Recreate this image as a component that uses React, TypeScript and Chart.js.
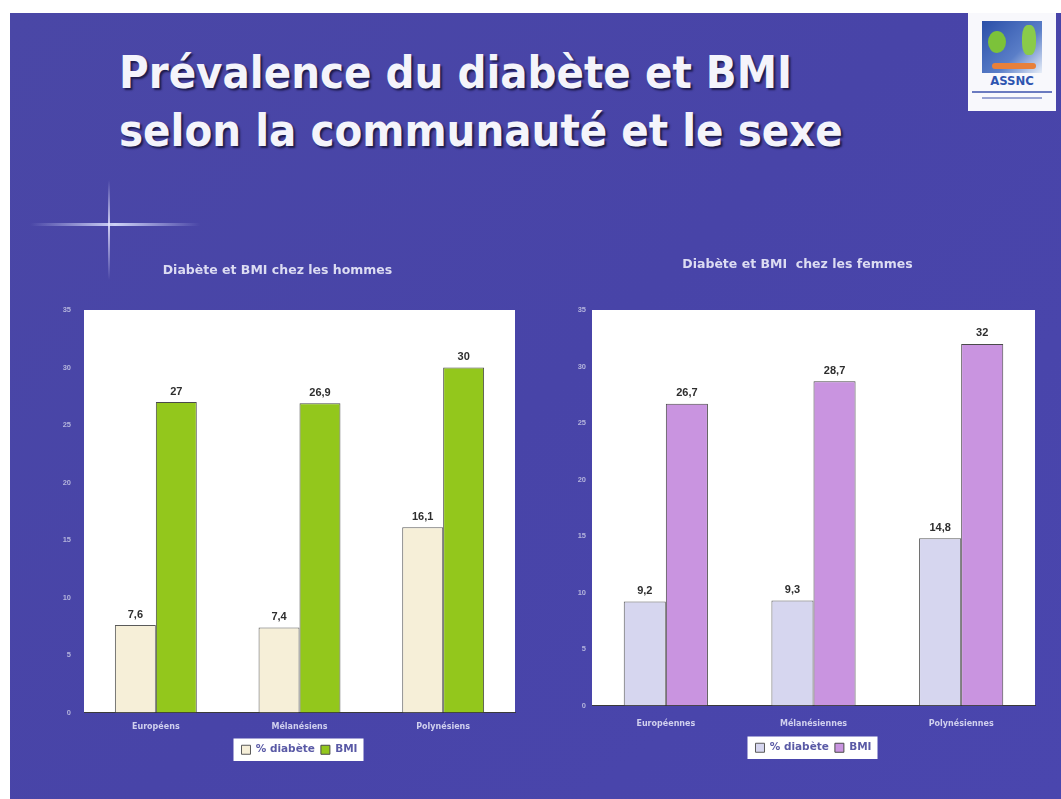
import React, { useEffect, useRef } from "react";
import { Chart, registerables } from "chart.js";

Chart.register(...registerables);

// ---- data ----
const menCategories = ["Européens", "Mélanésiens", "Polynésiens"];
const womenCategories = ["Européennes", "Mélanésiennes", "Polynésiennes"];
const menDiabetes = [7.6, 7.4, 16.1];
const menBMI = [27, 26.9, 30];
const womenDiabetes = [9.2, 9.3, 14.8];
const womenBMI = [26.7, 28.7, 32];
const seriesNames = ["% diabète", "BMI"];
const yMin = 0;
const yMax = 35;
const yStep = 5;
const menTitle = "Diabète et BMI chez les hommes";
const womenTitle = "Diabète et BMI  chez les femmes";
const slideTitle = ["Prévalence du diabète et BMI", "selon la communauté et le sexe"];

const fmt = (v: number) => String(v).replace(".", ",");

const whitePlot = {
  id: "whitePlot",
  beforeDraw(chart: any) {
    const { ctx, chartArea } = chart;
    ctx.save();
    ctx.fillStyle = "#ffffff";
    ctx.fillRect(chartArea.left, chartArea.top, chartArea.right - chartArea.left, chartArea.bottom - chartArea.top);
    const lg = chart.legend;
    if (lg && lg.legendHitBoxes && lg.legendHitBoxes.length) {
      let l = Infinity, r = -Infinity, t = Infinity, b = -Infinity;
      lg.legendHitBoxes.forEach((h: any) => {
        l = Math.min(l, h.left);
        r = Math.max(r, h.left + h.width);
        t = Math.min(t, h.top);
        b = Math.max(b, h.top + h.height);
      });
      ctx.fillStyle = "#ffffff";
      ctx.fillRect(l - 8, t - 6, r - l + 14, b - t + 12);
    }
    ctx.restore();
  },
};

const valueLabels = {
  id: "valueLabels",
  afterDatasetsDraw(chart: any) {
    const { ctx } = chart;
    ctx.save();
    ctx.font = "bold 11px 'Liberation Sans', Arial, sans-serif";
    ctx.fillStyle = "#2e2e2e";
    ctx.textAlign = "center";
    ctx.textBaseline = "bottom";
    chart.data.datasets.forEach((ds: any, i: number) => {
      const meta = chart.getDatasetMeta(i);
      meta.data.forEach((bar: any, j: number) => {
        ctx.fillText(fmt(ds.data[j]), bar.x, bar.y - 5);
      });
    });
    ctx.restore();
  },
};

type Cfg = {
  labels: string[];
  d1: number[];
  d2: number[];
  c1: string;
  c2: string;
  title: string;
  yWidth: number;
  yPad: number;
  xHeight: number;
  xPad: number;
  padding: { left: number; right: number; top: number; bottom: number };
  titlePad: { top: number; bottom: number };
};

function makeConfig(c: Cfg): any {
  return {
    type: "bar",
    data: {
      labels: c.labels,
      datasets: [
        {
          label: seriesNames[0],
          data: c.d1,
          backgroundColor: c.c1,
          borderColor: "#5a5a5a",
          borderWidth: 1,
          categoryPercentage: 0.57,
          barPercentage: 1,
        },
        {
          label: seriesNames[1],
          data: c.d2,
          backgroundColor: c.c2,
          borderColor: "#4a4a4a",
          borderWidth: 1,
          categoryPercentage: 0.57,
          barPercentage: 1,
        },
      ],
    },
    options: {
      responsive: false,
      animation: false,
      layout: { padding: c.padding },
      plugins: {
        tooltip: { enabled: false },
        title: {
          display: true,
          text: c.title,
          color: "#dcdcf2",
          font: { family: "'DejaVu Sans', sans-serif", size: 12.5, weight: "bold", lineHeight: 1.2 },
          padding: c.titlePad,
        },
        legend: {
          position: "bottom",
          fullSize: false,
          labels: {
            boxWidth: 9,
            boxHeight: 9,
            padding: 6,
            color: "#5a5aa6",
            font: { family: "'DejaVu Sans', sans-serif", size: 10.5, weight: "bold" },
          },
        },
      },
      scales: {
        x: {
          grid: { display: false, drawTicks: false },
          border: { display: true, color: "#3a3a3a", width: 1 },
          ticks: {
            color: "#d0d0ee",
            padding: c.xPad,
            font: { family: "'DejaVu Sans', sans-serif", size: 8, weight: "bold" },
          },
          afterFit(scale: any) {
            scale.height = c.xHeight;
          },
        },
        y: {
          min: yMin,
          max: yMax,
          grid: { display: false, drawTicks: false },
          border: { display: false },
          ticks: {
            stepSize: yStep,
            color: "#b4b4dc",
            padding: c.yPad,
            font: { family: "'Liberation Sans', Arial, sans-serif", size: 7.5, weight: "bold" },
          },
          afterFit(scale: any) {
            scale.width = c.yWidth;
          },
        },
      },
    },
    plugins: [whitePlot, valueLabels],
  };
}

function BarChart({ cfg, w, h, left, top }: { cfg: Cfg; w: number; h: number; left: number; top: number }) {
  const ref = useRef<HTMLCanvasElement>(null);
  useEffect(() => {
    if (!ref.current) return;
    const chart = new Chart(ref.current, makeConfig(cfg));
    return () => chart.destroy();
  }, []);
  return (
    <canvas
      ref={ref}
      width={w}
      height={h}
      style={{ position: "absolute", left, top, width: w, height: h }}
    />
  );
}

export default function App() {
  const menCfg: Cfg = {
    labels: menCategories,
    d1: menDiabetes,
    d2: menBMI,
    c1: "#f6efd8",
    c2: "#93c71c",
    title: menTitle,
    yWidth: 44,
    yPad: 13,
    xHeight: 26,
    xPad: 10,
    padding: { left: 0, right: 15, top: 0, bottom: 15 },
    titlePad: { top: 13, bottom: 32 },
  };
  const womenCfg: Cfg = {
    labels: womenCategories,
    d1: womenDiabetes,
    d2: womenBMI,
    c1: "#d6d6ef",
    c2: "#c994e0",
    title: womenTitle,
    yWidth: 32,
    yPad: 6,
    xHeight: 31,
    xPad: 14,
    padding: { left: 0, right: 5, top: 0, bottom: 17 },
    titlePad: { top: 7, bottom: 38 },
  };
  return (
    <div style={{ position: "absolute", left: 0, top: 0, width: 1061, height: 799, background: "#ffffff", overflow: "hidden" }}>
      <div
        style={{
          position: "absolute",
          left: 10,
          top: 13,
          right: 0,
          bottom: 0,
          background: "linear-gradient(135deg, #4a47a6 0%, #4844a8 50%, #4a46ae 100%)",
        }}
      />
      {/* decorative sparkle */}
      <div style={{ position: "absolute", left: 30, top: 223, width: 170, height: 3, background: "linear-gradient(to right, rgba(120,140,255,0), rgba(220,225,255,0.9) 50%, rgba(120,140,255,0))" }} />
      <div style={{ position: "absolute", left: 108, top: 180, width: 2, height: 100, background: "linear-gradient(to bottom, rgba(120,140,255,0), rgba(230,230,255,0.85) 45%, rgba(120,140,255,0))" }} />
      {/* title */}
      <div
        style={{
          position: "absolute",
          left: 119,
          top: 44,
          fontFamily: "'DejaVu Sans Condensed', 'DejaVu Sans', sans-serif",
          fontWeight: "bold",
          fontSize: 45,
          lineHeight: "58px",
          color: "#f4f4fb",
          textShadow: "2px 2px 2px #1c1a4a",
          whiteSpace: "nowrap",
        }}
      >
        <div>{slideTitle[0]}</div>
        <div>{slideTitle[1]}</div>
      </div>
      {/* logo */}
      <div style={{ position: "absolute", left: 968, top: 13, width: 88, height: 98, background: "#f8f8fc" }}>
        <div style={{ position: "absolute", left: 14, top: 8, width: 60, height: 52, background: "linear-gradient(135deg, #2a4fa8, #5a7ec8 60%, #e8eef8)" }}>
          <div style={{ position: "absolute", left: 6, top: 10, width: 18, height: 22, borderRadius: "50%", background: "#7cc23a" }} />
          <div style={{ position: "absolute", left: 40, top: 4, width: 14, height: 30, borderRadius: "40%", background: "#8acb4a" }} />
          <div style={{ position: "absolute", left: 10, top: 42, width: 44, height: 6, background: "#e8803a", borderRadius: 3 }} />
        </div>
        <div style={{ position: "absolute", left: 0, width: 88, top: 60, textAlign: "center", fontFamily: "'DejaVu Sans Condensed', sans-serif", fontWeight: "bold", fontSize: 13, color: "#2f55b0" }}>ASSNC</div>
        <div style={{ position: "absolute", left: 4, width: 80, top: 78, height: 2, background: "#6a7ac0" }} />
        <div style={{ position: "absolute", left: 14, width: 60, top: 84, height: 2, background: "#9aa4d4" }} />
      </div>
      <BarChart cfg={menCfg} w={490} h={530} left={40} top={250} />
      <BarChart cfg={womenCfg} w={480} h={530} left={560} top={250} />
    </div>
  );
}
